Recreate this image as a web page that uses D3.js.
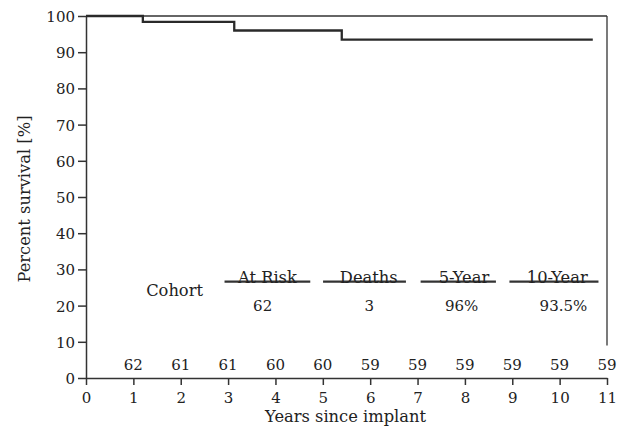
<!DOCTYPE html>
<html>
<head>
<meta charset="utf-8">
<script src="https://cdn.jsdelivr.net/npm/d3@7"></script>
<style>
  body { margin: 0; background: #fff; }
  text { font-family: "DejaVu Serif", serif; fill: #222; }
</style>
</head>
<body>
<div class="chart"></div>
<script>
var WIDTH = 624, HEIGHT = 427;
var margin = { top: 16, right: 17, bottom: 49, left: 86 },
    width = WIDTH - margin.left - margin.right,
    height = HEIGHT - margin.top - margin.bottom;
var NUM_FONT = "15px";   // digits
var WORD_FONT = "16.3px"; // words

// survival curve steps (years, percent)
var stepYears = [0, 1.2, 3.13, 5.4, 10.7];
var stepSurvival = [100, 98.4, 96.0, 93.5, 93.5];

// numbers at risk under each year tick
var riskYears = [1, 2, 3, 4, 5, 6, 7, 8, 9, 10, 11];
var riskCounts = [62, 61, 61, 60, 60, 59, 59, 59, 59, 59, 59];

// summary table
var tableHeaders = ["At Risk", "Deaths", "5-Year", "10-Year"];
var tableValues = ["62", "3", "96%", "93.5%"];

var xTicks = [0, 1, 2, 3, 4, 5, 6, 7, 8, 9, 10, 11];
var yTicks = [0, 10, 20, 30, 40, 50, 60, 70, 80, 90, 100];

var xScale = d3.scaleLinear().domain([0, 11]).range([0, width]);
var yScale = d3.scaleLinear().domain([0, 100]).range([height, 0]);

var svg = d3.select('.chart').append("svg")
    .attr("width", WIDTH)
    .attr("height", HEIGHT);

var rootGroup = svg.append("g")
    .attr("transform", "translate(" + margin.left + "," + margin.top + ")");

var ink = "#333";

// frame: top and right edge (right edge stops above the last at-risk number)
rootGroup.append("line")
    .attr("x1", 0).attr("x2", width)
    .attr("y1", 0).attr("y2", 0)
    .attr("stroke", ink).attr("stroke-width", 1.3);
rootGroup.append("line")
    .attr("x1", width).attr("x2", width)
    .attr("y1", 0).attr("y2", yScale(9))
    .attr("stroke", ink).attr("stroke-width", 1.3);

// axes
var xAxis = rootGroup.append("g")
    .attr("transform", "translate(0," + height + ")")
    .call(d3.axisBottom(xScale).tickValues(xTicks).tickSize(7).tickSizeOuter(0));
var yAxis = rootGroup.append("g")
    .call(d3.axisLeft(yScale).tickValues(yTicks).tickSize(8).tickSizeOuter(0));

[xAxis, yAxis].forEach(function (ax) {
    ax.selectAll("path, line").attr("stroke", ink).attr("stroke-width", 1.5);
    ax.selectAll("text")
        .style("font-family", '"DejaVu Serif", serif')
        .style("font-size", NUM_FONT)
        .attr("fill", "#222");
});
xAxis.selectAll("text").attr("dy", "0.72em").attr("y", 14);
yAxis.selectAll("text").attr("x", -11).attr("dy", "0.36em");

// step curve
var line = d3.line()
    .x(function (d) { return xScale(d[0]); })
    .y(function (d) { return yScale(d[1]); })
    .curve(d3.curveStepAfter);

rootGroup.append("path")
    .datum(d3.zip(stepYears, stepSurvival))
    .attr("d", line)
    .attr("fill", "none")
    .attr("stroke", "#2a2a2a")
    .attr("stroke-width", 2.3);

// numbers at risk
rootGroup.selectAll("text.risk")
    .data(riskCounts)
    .enter()
    .append("text")
    .attr("class", "risk")
    .attr("x", function (d, i) { return xScale(riskYears[i]); })
    .attr("y", yScale(0) - 8)
    .attr("text-anchor", "middle")
    .style("font-size", NUM_FONT)
    .text(function (d) { return d; });

// summary table
var headCenters = [3.83, 5.97, 7.98, 9.95];
var ruleCenters = [3.83, 5.88, 7.86, 9.88];
var ruleWidths = [1.81, 1.75, 1.59, 1.88];
var valueCenters = [3.73, 5.98, 7.93, 10.08];

rootGroup.append("text")
    .attr("x", xScale(1.87))
    .attr("y", yScale(22.6))
    .attr("text-anchor", "middle")
    .style("font-size", WORD_FONT)
    .text("Cohort");

rootGroup.selectAll("line.rule")
    .data(tableHeaders)
    .enter()
    .append("line")
    .attr("class", "rule")
    .attr("x1", function (d, i) { return xScale(ruleCenters[i] - ruleWidths[i] / 2); })
    .attr("x2", function (d, i) { return xScale(ruleCenters[i] + ruleWidths[i] / 2); })
    .attr("y1", yScale(26.6)).attr("y2", yScale(26.6))
    .attr("stroke", ink).attr("stroke-width", 2.2);

rootGroup.selectAll("text.head")
    .data(tableHeaders)
    .enter()
    .append("text")
    .attr("class", "head")
    .attr("x", function (d, i) { return xScale(headCenters[i]); })
    .attr("y", yScale(26.3))
    .attr("text-anchor", "middle")
    .style("font-size", WORD_FONT)
    .text(function (d) { return d; });

rootGroup.selectAll("text.val")
    .data(tableValues)
    .enter()
    .append("text")
    .attr("class", "val")
    .attr("x", function (d, i) { return xScale(valueCenters[i]); })
    .attr("y", yScale(18.6))
    .attr("text-anchor", "middle")
    .style("font-size", NUM_FONT)
    .text(function (d) { return d; });

// axis titles
rootGroup.append("text")
    .attr("x", xScale(5.48))
    .attr("y", height + 44)
    .attr("text-anchor", "middle")
    .style("font-size", WORD_FONT)
    .text("Years since implant");

rootGroup.append("text")
    .attr("transform", "rotate(-90)")
    .attr("x", -(height / 2 + 2))
    .attr("y", -56)
    .attr("text-anchor", "middle")
    .style("font-size", WORD_FONT)
    .text("Percent survival [%]");
</script>
</body>
</html>
